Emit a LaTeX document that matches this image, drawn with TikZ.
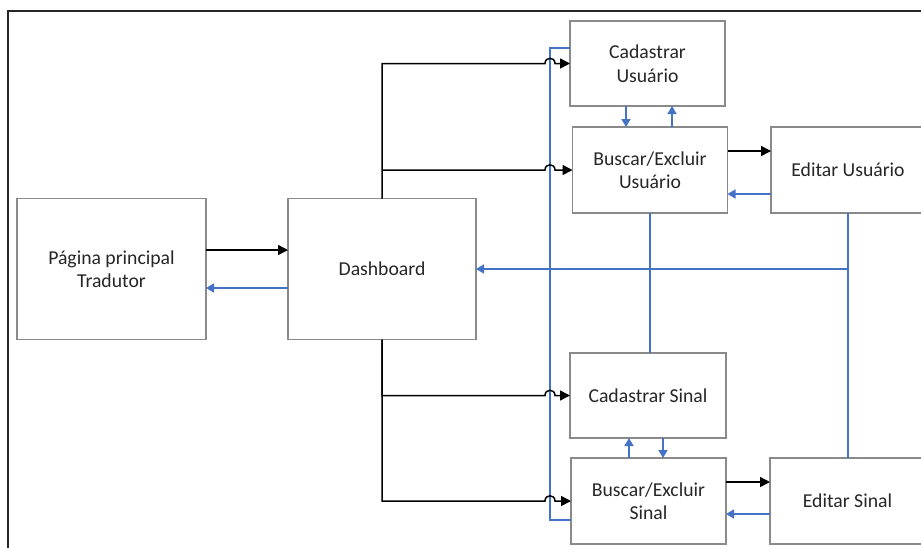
\documentclass[tikz,border=0pt]{standalone}
\usepackage{fontspec}
\setmainfont{Carlito}
\usetikzlibrary{arrows.meta,calc}
\definecolor{boxgray}{HTML}{8A8A8A}
\definecolor{linkblue}{HTML}{4472C4}
\definecolor{txtgray}{HTML}{262626}
\begin{document}
\begin{tikzpicture}[x=1pt,y=-1pt,
  box/.style={draw=boxgray,line width=1.3pt,fill=white,align=center,
    text=txtgray,font=\fontsize{19.7}{23.5}\selectfont,inner sep=0pt,outer sep=0pt},
  blk/.style={draw=black,line width=1.5pt},
  blu/.style={draw=linkblue,line width=1.6pt},
  tipk/.style={-{Triangle[length=10pt,width=10pt]}},
  tipb/.style={-{Triangle[length=8pt,width=9pt]}},
]
\useasboundingbox (0,0) rectangle (921,547);
\fill[white] (0,0) rectangle (921,547);

% outer frame (top and left edges)
\draw[line width=2.5pt,draw=black!85] (8,560) -- (8,11) -- (930,11);

% boxes
\node[box,minimum width=189pt,minimum height=141pt] (pag) at (111.5,269) {Página principal\\Tradutor};
\node[box,minimum width=188pt,minimum height=141pt] (dash) at (382,269) {Dashboard};
\node[box,minimum width=155pt,minimum height=85pt] (cadU) at (647.5,63.5) {Cadastrar\\Usuário};
\node[box,minimum width=155pt,minimum height=86pt] (busU) at (650,170) {Buscar/Excluir\\Usuário};
\node[box,minimum width=154pt,minimum height=86pt] (ediU) at (848,170) {Editar Usuário};
\node[box,minimum width=156pt,minimum height=85pt] (cadS) at (648,395.5) {Cadastrar Sinal};
\node[box,minimum width=155pt,minimum height=86pt] (busS) at (648.5,501) {Buscar/Excluir\\Sinal};
\node[box,minimum width=155pt,minimum height=86pt] (ediS) at (847.5,501) {Editar Sinal};

% helper points
\coordinate (rail) at (550,0);
\coordinate (bsLow) at ([yshift=-19pt]busS.west);
\coordinate (cuHigh) at ([yshift=15.5pt]cadU.west);
\coordinate (pgOut) at ([yshift=19pt]pag.east);
\coordinate (pgIn) at ([yshift=-19pt]pag.east);
\coordinate (buOut) at ([yshift=19pt]busU.east);
\coordinate (buIn) at ([yshift=-24pt]busU.east);
\coordinate (bsOut) at ([yshift=19pt]busS.east);
\coordinate (bsIn) at ([yshift=-13pt]busS.east);
\coordinate (cuDown) at ([xshift=-21.5pt]cadU.south);
\coordinate (cuUp) at ([xshift=24.5pt]cadU.south);
\coordinate (csUp) at ([xshift=-19pt]cadS.south);
\coordinate (csDown) at ([xshift=15pt]cadS.south);

% blue return rail on the left of the right column
\draw[blu] (bsLow) -- (bsLow -| rail) -- (cuHigh -| rail) -- (cuHigh);

% blue returns to the dashboard
\draw[blu] (busU.south) -- (busU.south |- cadS.north);
\draw[blu] (ediU.south) -- (ediU.south |- ediS.north);
\draw[blu,tipb] (ediU.south |- dash.east) -- (dash.east);

% dashboard <-> main page
\draw[blk,tipk] (pgOut) -- (pgOut -| dash.west);
\draw[blu,tipb] (pgIn -| dash.west) -- (pgIn);

% dashboard trunk with hops over the blue rail
\draw[blk,tipk] (dash.north) |- ($(rail |- cadU.west)+(-5,0)$)
  .. controls +(0,-7) and +(0,-7) .. ($(rail |- cadU.west)+(5,0)$) -- (cadU.west);
\draw[blk,tipk] (dash.north |- busU.west) -- ($(rail |- busU.west)+(-5,0)$)
  .. controls +(0,-7) and +(0,-7) .. ($(rail |- busU.west)+(5,0)$) -- (busU.west);
\draw[blk,tipk] (dash.south) |- ($(rail |- cadS.west)+(-5,0)$)
  .. controls +(0,-7) and +(0,-7) .. ($(rail |- cadS.west)+(5,0)$) -- (cadS.west);
\draw[blk,tipk] (dash.south) |- ($(rail |- busS.west)+(-5,0)$)
  .. controls +(0,-7) and +(0,-7) .. ($(rail |- busS.west)+(5,0)$) -- (busS.west);

% search <-> edit
\draw[blk,tipk] (buOut) -- (buOut -| ediU.west);
\draw[blu,tipb] (buIn -| ediU.west) -- (buIn);
\draw[blk,tipk] (bsOut) -- (bsOut -| ediS.west);
\draw[blu,tipb] (bsIn -| ediS.west) -- (bsIn);

% register <-> search
\draw[blu,tipb] (cuDown) -- (cuDown |- busU.north);
\draw[blu,tipb] (cuUp |- busU.north) -- (cuUp);
\draw[blu,tipb] (csUp |- busS.north) -- (csUp);
\draw[blu,tipb] (csDown) -- (csDown |- busS.north);
\end{tikzpicture}
\end{document}
